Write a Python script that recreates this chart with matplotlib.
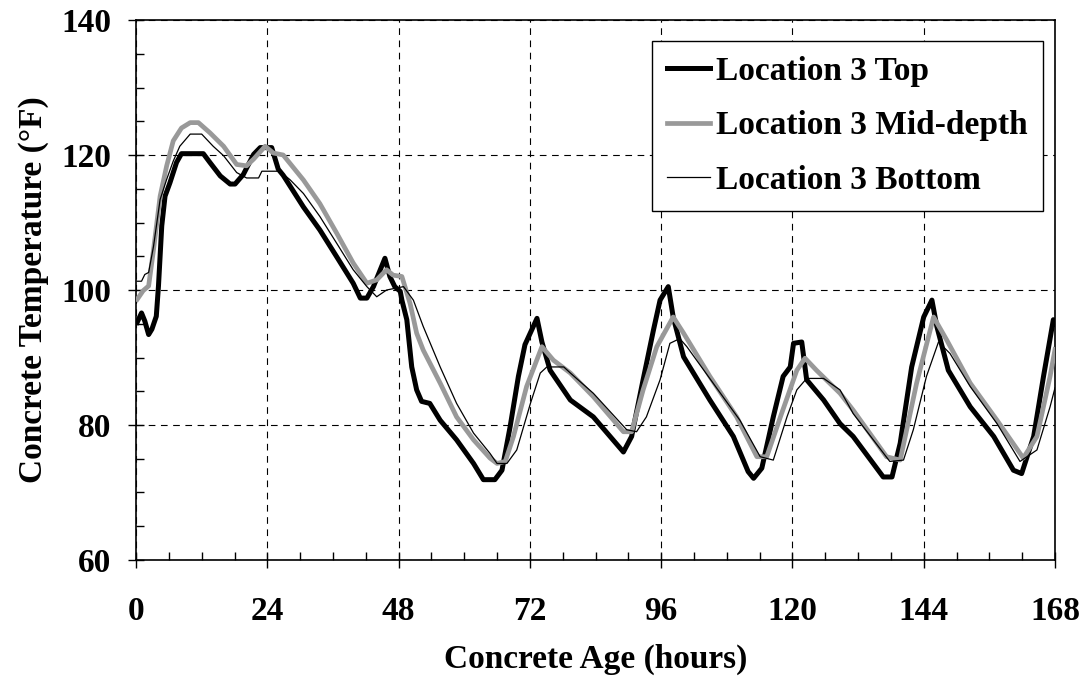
import matplotlib.pyplot as plt
from matplotlib.ticker import MultipleLocator

# Location 3 Top (thick black)
top_t = [0.2, 1.0, 1.6, 2.3, 2.9, 3.7, 4.1, 4.7, 5.3, 6.2, 7.4, 8.3, 12.3, 13.5, 15.4, 17.2, 18.1,
         19.6, 21.5, 22.7, 24.8, 26.0, 26.9, 30.6, 33.6, 36.7, 39.7, 41.0, 42.2, 43.4, 45.5, 46.4,
         47.3, 48.3, 48.6, 49.5, 50.4, 51.3, 52.2, 53.7, 55.6, 58.6, 61.7, 63.5, 65.6, 66.9, 68.4,
         69.9, 71.1, 73.3, 74.2, 75.7, 79.4, 83.6, 89.1, 90.6, 92.7, 94.6, 95.8, 97.3, 98.2, 100.1,
         104.9, 109.2, 111.9, 112.9, 114.4, 116.5, 118.3, 119.6, 120.2, 121.7, 122.6, 125.7, 128.7,
         131.1, 136.6, 138.2, 139.7, 141.8, 144.0, 145.5, 146.4, 148.5, 152.5, 156.8, 160.4, 161.9,
         164.1, 165.9, 167.7, 168.0]
top_T = [95.2, 96.6, 95.4, 93.4, 94.2, 96.1, 100.6, 109.5, 113.9, 115.9, 118.9, 120.2, 120.2, 118.9,
         116.9, 115.7, 115.7, 117.1, 120.1, 121.1, 121.1, 117.9, 117.0, 112.3, 108.9, 104.9, 101.0,
         98.8, 98.8, 100.5, 104.7, 102.0, 100.5, 99.8, 98.5, 95.6, 88.6, 85.2, 83.5, 83.2, 80.7, 77.8,
         74.3, 71.9, 71.9, 73.3, 79.8, 87.2, 91.9, 95.8, 92.3, 88.1, 83.7, 81.2, 76.0, 78.3, 86.7,
         94.1, 98.5, 100.5, 96.0, 90.1, 83.7, 78.3, 73.1, 72.1, 73.6, 81.2, 87.2, 88.6, 92.1, 92.3,
         86.7, 83.7, 80.2, 78.3, 72.3, 72.3, 77.3, 88.6, 96.0, 98.5, 94.6, 88.1, 82.7, 78.3, 73.3,
         72.8, 78.3, 87.2, 95.6, 95.0]

# Location 3 Mid-depth (thick gray)
mid_t = [0.2, 1.3, 2.3, 3.2, 4.4, 5.6, 6.8, 8.3, 9.9, 11.4, 13.5, 16.0, 18.4, 20.2, 21.5, 23.6,
         25.1, 26.9, 30.6, 33.6, 36.7, 39.7, 42.2, 44.0, 45.8, 47.0, 48.6, 50.1, 51.3, 52.5, 55.6,
         58.6, 61.7, 64.7, 66.0, 67.5, 69.0, 71.4, 74.2, 76.3, 79.4, 83.6, 89.1, 90.6, 92.7, 95.2,
         98.2, 100.1, 104.9, 109.8, 113.5, 115.3, 117.8, 120.8, 122.3, 124.4, 128.7, 131.1, 137.2,
         139.7, 142.7, 145.8, 148.2, 152.5, 157.4, 162.2, 164.7, 167.1, 168.0]
mid_T = [98.6, 99.9, 100.6, 106.0, 113.9, 118.4, 122.1, 124.0, 124.8, 124.8, 123.3, 121.3, 118.6,
         118.4, 119.4, 121.3, 120.3, 120.0, 116.3, 112.8, 108.4, 104.0, 101.0, 101.5, 103.0, 102.2,
         102.0, 98.0, 93.6, 91.1, 86.2, 81.2, 77.8, 75.1, 74.3, 74.6, 78.3, 85.7, 91.6, 89.6, 87.7,
         84.2, 79.0, 79.0, 85.2, 91.6, 96.0, 93.6, 87.2, 81.2, 75.3, 75.3, 81.2, 88.1, 89.9, 88.1,
         84.7, 82.2, 75.3, 74.8, 86.2, 96.0, 92.6, 86.2, 80.7, 75.1, 78.3, 87.2, 91.2]

# Location 3 Bottom (thin black)
bot_t = [0.2, 1.0, 1.6, 2.3, 3.2, 4.4, 5.6, 6.8, 8.0, 9.9, 12.0, 14.1, 16.0, 18.4, 20.2, 22.4,
         23.0, 26.3, 28.2, 30.6, 33.6, 36.7, 39.7, 42.2, 44.0, 45.8, 48.9, 50.7, 52.5, 55.6, 58.6,
         61.7, 64.7, 66.0, 67.8, 69.6, 72.1, 73.9, 75.1, 78.2, 79.4, 83.6, 89.7, 91.5, 93.3, 95.8,
         97.6, 99.4, 100.7, 105.5, 110.4, 114.1, 116.5, 119.0, 120.8, 122.6, 125.7, 128.7, 131.1,
         137.8, 140.3, 142.1, 144.5, 146.7, 148.8, 152.5, 157.4, 161.6, 164.7, 167.1, 168.0]
bot_T = [101.3, 101.3, 102.3, 102.6, 106.5, 113.4, 116.4, 119.1, 121.3, 123.1, 123.1, 121.3, 119.9,
         117.4, 116.6, 116.6, 117.6, 117.6, 116.3, 114.3, 110.9, 106.9, 103.0, 100.5, 99.0, 100.0,
         100.5, 98.5, 94.6, 88.6, 83.2, 78.8, 75.8, 74.3, 74.3, 76.3, 83.2, 87.7, 88.6, 88.6, 87.7,
         84.7, 79.3, 79.0, 81.2, 86.7, 92.1, 92.8, 91.6, 86.2, 80.7, 75.3, 74.8, 81.2, 85.2, 86.9,
         86.9, 85.2, 81.7, 74.6, 74.8, 79.3, 87.2, 92.3, 90.6, 85.7, 80.2, 74.6, 76.3, 82.7, 85.5]

x_ticks = [0, 24, 48, 72, 96, 120, 144, 168]
y_ticks = [60, 80, 100, 120, 140]

plt.rcParams['font.family'] = ['Liberation Serif', 'DejaVu Serif']
plt.rcParams['font.weight'] = 'bold'

fig = plt.figure(figsize=(10.91, 6.86), dpi=100)
ax = fig.add_axes([0.1247, 0.1837, 0.8423, 0.7871])

ax.plot(mid_t, mid_T, color='#999999', lw=3.4, label='Location 3 Mid-depth', zorder=3)
ax.plot(bot_t, bot_T, color='black', lw=0.9, label='Location 3 Bottom', zorder=4)
ax.plot(top_t, top_T, color='black', lw=3.6, label='Location 3 Top', zorder=2)

ax.set_xlim(0, 168)
ax.set_ylim(60, 140)
ax.set_xticks(x_ticks)
ax.set_yticks(y_ticks)
ax.xaxis.set_minor_locator(MultipleLocator(6))
ax.yaxis.set_minor_locator(MultipleLocator(5))
ax.tick_params(which='major', direction='inout', length=12, width=1, labelsize=24,
               top=False, right=False)
ax.tick_params(axis='x', which='major', pad=20)
ax.tick_params(axis='y', which='major', pad=12)
ax.tick_params(which='minor', direction='in', length=6, width=1, top=False, right=False)
for lab in ax.get_xticklabels() + ax.get_yticklabels():
    lab.set_fontweight('bold')

ax.grid(True, which='major', color='black', ls=(0, (6, 5)), lw=0.8)
for s in ax.spines.values():
    s.set_linewidth(1.2)

ax.set_xlabel('Concrete Age (hours)', fontsize=24, fontweight='bold', labelpad=12)
ax.set_ylabel('Concrete Temperature (°F)', fontsize=24, fontweight='bold', labelpad=9)

handles, labels = ax.get_legend_handles_labels()
order = [2, 0, 1]
leg = ax.legend([handles[i] for i in order], [labels[i] for i in order], loc='upper right',
                bbox_to_anchor=(0.987, 0.961), prop={'weight': 'bold', 'size': 24},
                fancybox=False, framealpha=1, edgecolor='black', handlelength=1.3,
                handletextpad=0.18, borderpad=0.45, labelspacing=0.7, borderaxespad=0)
leg.get_frame().set_linewidth(1.0)

fig.savefig('out.png', dpi=100)
